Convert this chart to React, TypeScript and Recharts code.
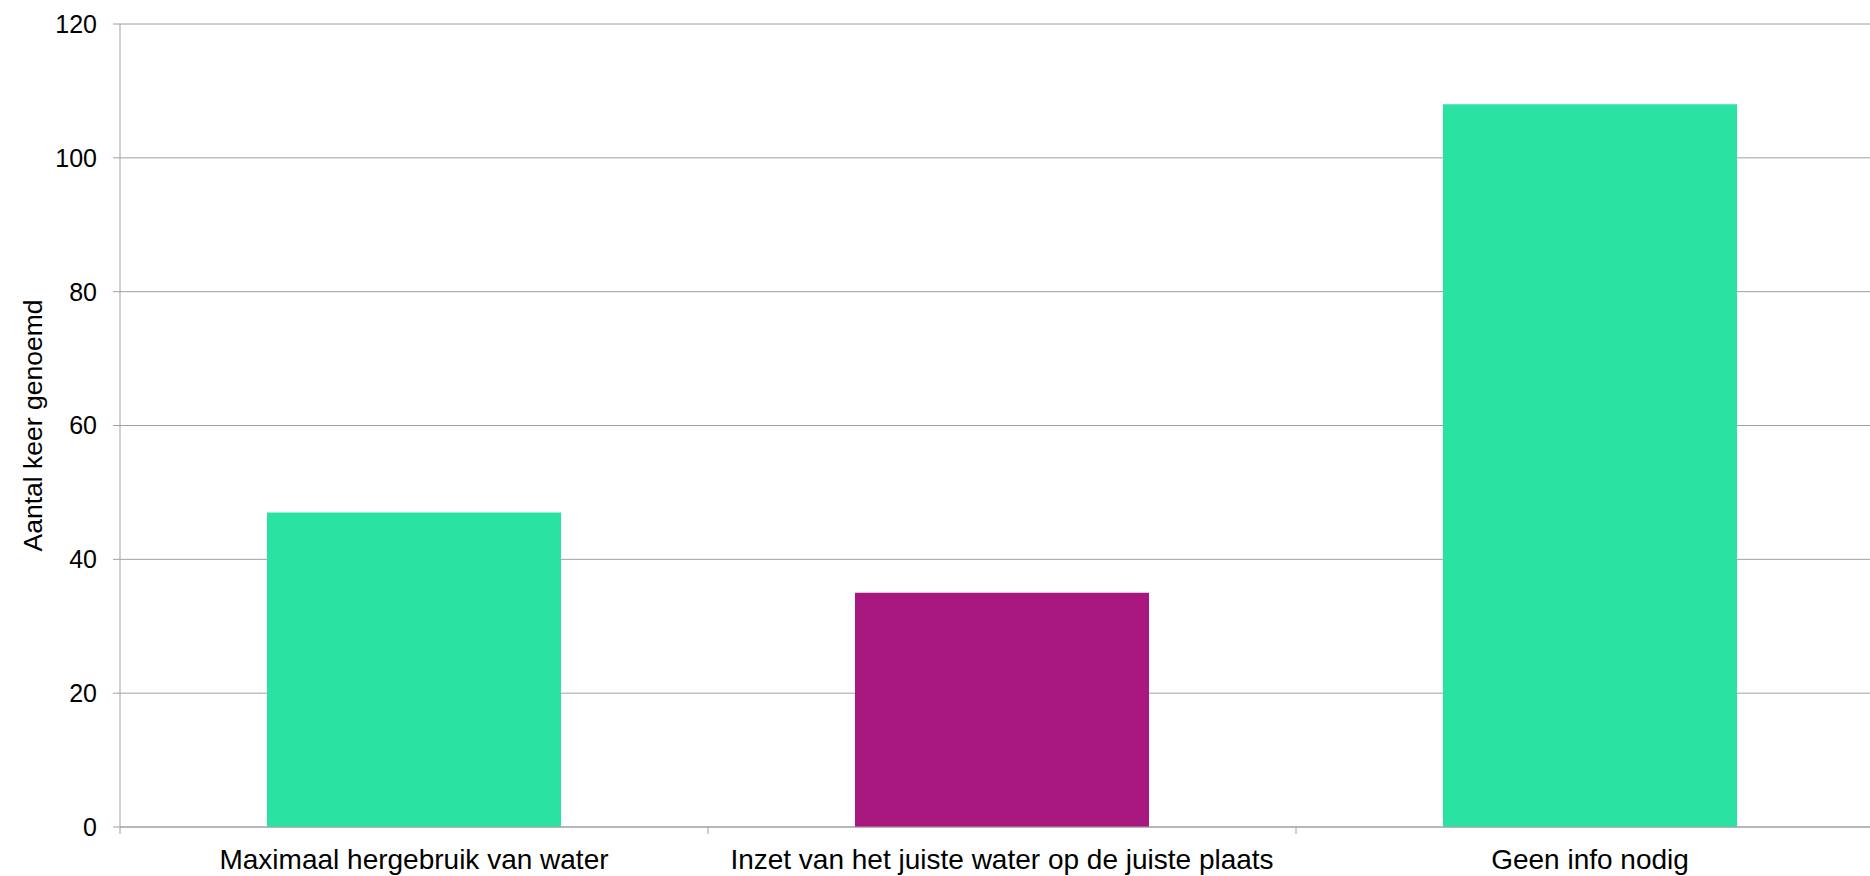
import React from 'react';
import { BarChart, Bar, XAxis, YAxis, CartesianGrid, Cell } from 'recharts';

const categories: string[] = [
  'Maximaal hergebruik van water',
  'Inzet van het juiste water op de juiste plaats',
  'Geen info nodig',
];
const values: number[] = [47, 35, 108];
const yTicks: number[] = [0, 20, 40, 60, 80, 100, 120];
const yAxisLabel = 'Aantal keer genoemd';

const BAR_COLORS = ['#2AE3A3', '#A8177E', '#2AE3A3'];
const GRID = '#A0A0A0';
const FONT = '"Liberation Sans", Arial, sans-serif';

const CHART_W = 1884;
const CHART_H = 876;
const MARGIN_TOP = 24;
const Y_AXIS_W = 120;
const X_AXIS_H = 49;
const AXIS_Y = CHART_H - X_AXIS_H;
const PLOT_W = CHART_W - Y_AXIS_W;

const data = categories.map((name, i) => ({ name, value: values[i] }));

const XTick = (props: any) => {
  const { x, payload, index } = props;
  const half = payload && typeof payload.offset === 'number' && payload.offset > 0
    ? payload.offset
    : PLOT_W / categories.length / 2;
  return (
    <g>
      {index === 0 && (
        <line x1={x - half} x2={x - half} y1={AXIS_Y} y2={AXIS_Y + 7} stroke={GRID} />
      )}
      <line x1={x + half} x2={x + half} y1={AXIS_Y} y2={AXIS_Y + 7} stroke={GRID} />
      <text
        x={x}
        y={AXIS_Y + 22}
        dy="0.71em"
        textAnchor="middle"
        fill="#000"
        style={{ fontFamily: FONT, fontSize: 28 }}
      >
        {payload.value}
      </text>
    </g>
  );
};

const YLabel = (props: any) => {
  const vb = props.viewBox || {};
  const cx = 42;
  const cy = (vb.y ?? MARGIN_TOP) + (vb.height ?? 0) / 2;
  return (
    <text
      x={cx}
      y={cy}
      textAnchor="middle"
      transform={`rotate(-90, ${cx}, ${cy})`}
      fill="#000"
      style={{ fontFamily: FONT, fontSize: 26.5 }}
    >
      {yAxisLabel}
    </text>
  );
};

export default function App() {
  return (
    <div
      style={{
        position: 'absolute',
        left: 0,
        top: 0,
        width: 1870,
        height: 876,
        overflow: 'hidden',
        background: '#fff',
      }}
    >
      <BarChart
        width={CHART_W}
        height={CHART_H}
        data={data}
        margin={{ top: MARGIN_TOP, right: 0, bottom: 0, left: 0 }}
        barCategoryGap="25%"
      >
        <CartesianGrid vertical={false} stroke={GRID} strokeDasharray="" />
        <XAxis
          dataKey="name"
          height={X_AXIS_H}
          interval={0}
          axisLine={{ stroke: GRID }}
          tickLine={false}
          tick={<XTick />}
        />
        <YAxis
          width={Y_AXIS_W}
          domain={[0, 120]}
          ticks={yTicks}
          interval={0}
          axisLine={{ stroke: GRID }}
          tickLine={{ stroke: GRID }}
          tickSize={7}
          tickMargin={16}
          tick={{ fill: '#000', fontSize: 25, fontFamily: FONT }}
          label={<YLabel />}
        />
        <Bar dataKey="value" isAnimationActive={false}>
          {data.map((_, i) => (
            <Cell key={i} fill={BAR_COLORS[i]} />
          ))}
        </Bar>
      </BarChart>
    </div>
  );
}
